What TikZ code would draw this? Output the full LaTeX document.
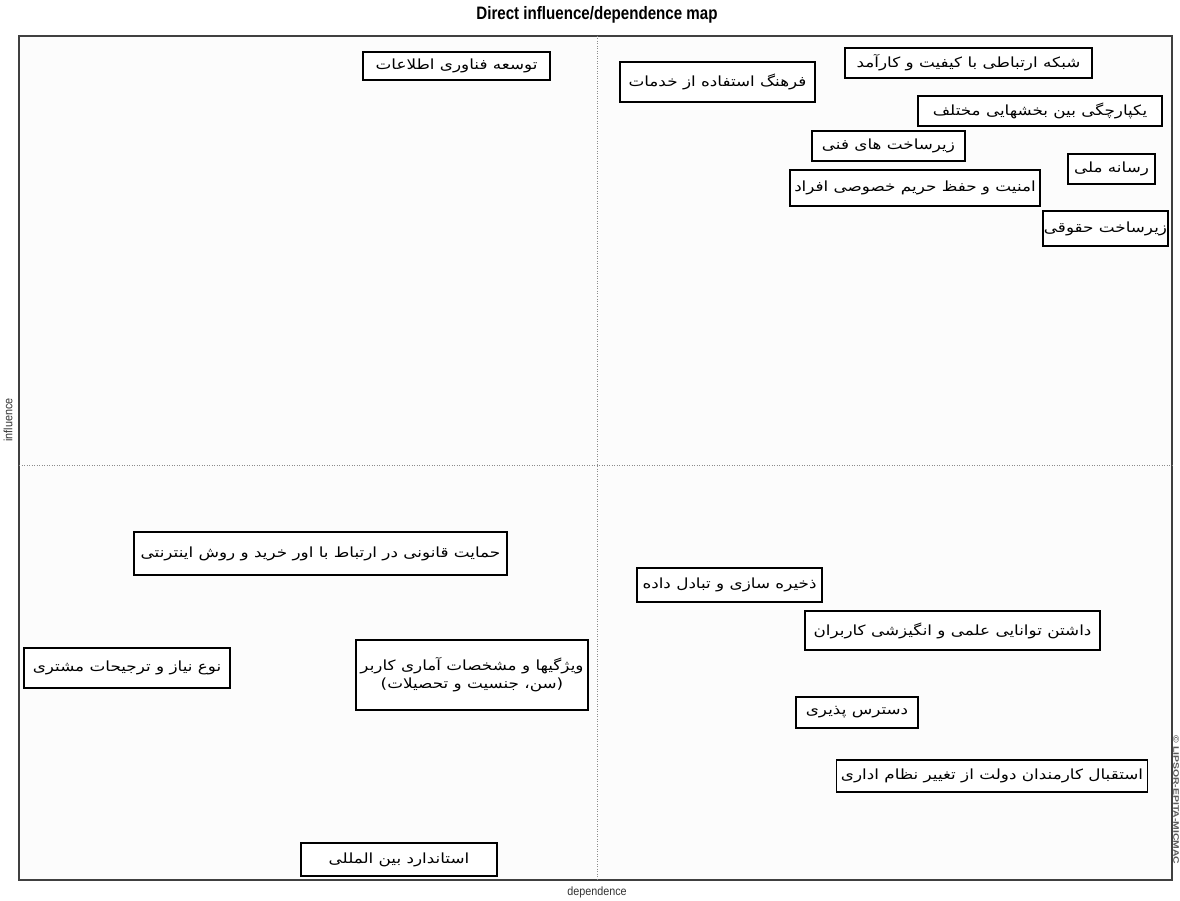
\documentclass[tikz,border=0pt]{standalone}
\usepackage{fontspec}
\setmainfont{Liberation Sans}
\newfontfamily\arabicfont[Script=Arabic,FakeStretch=1.2]{DejaVu Sans}
\TeXXeTstate=1
\begin{document}
\begin{tikzpicture}[x=1pt,y=-1pt,
  varbox/.style={draw=black,line width=1.3pt,fill=white,inner sep=1pt,font=\arabicfont\fontsize{14}{18}\selectfont,align=center},
  frameline/.style={draw=black!75,line width=1.4pt},
  midline/.style={draw=black!45,line width=0.5pt,dotted},
  axislabel/.style={font=\fontsize{12}{13}\selectfont,text=black!80}]
\useasboundingbox[fill=white] (0,0) rectangle (1180,901);
\fill[black!1] (19,36) rectangle (1172,880);
% frame
\draw[frameline] (19,36) rectangle (1172,880);
\coordinate (vtop) at (597,36);
\coordinate (vbot) at (597,880);
\coordinate (hleft) at (19,465);
\coordinate (hright) at (1172,465);
\draw[midline] (vtop) -- (vbot);
\draw[midline] (hleft) -- (hright);
% labels
\node[font=\bfseries\fontsize{18}{19}\selectfont,xscale=0.84,transform shape] (title) at (597,15) {Direct influence/dependence map};
\node[axislabel,xscale=0.9,transform shape] (dep) at (597,892) {dependence};
\node[axislabel,rotate=90,xscale=0.9,transform shape] (inf) at (8,420) {influence};
% variables
\node[varbox,minimum width=187,minimum height=28] (b1) at (456.5,66) {\beginR توسعه فناوری اطلاعات\endR};
\node[varbox,minimum width=195,minimum height=40] (b2) at (717.5,82) {\beginR فرهنگ استفاده از خدمات\endR};
\node[varbox,minimum width=247,minimum height=30] (b3) at (968.5,63) {\beginR شبکه ارتباطی با کیفیت و کارآمد\endR};
\node[varbox,minimum width=244,minimum height=30] (b4) at (1040,111) {\beginR یکپارچگی بین بخشهایی مختلف\endR};
\node[varbox,minimum width=153,minimum height=30] (b5) at (888.5,146) {\beginR زیرساخت های فنی\endR};
\node[varbox,minimum width=87,minimum height=30] (b6) at (1111.5,169) {\beginR رسانه ملی\endR};
\node[varbox,minimum width=250,minimum height=36] (b7) at (915,188) {\beginR امنیت و حفظ حریم خصوصی افراد\endR};
\node[varbox,minimum width=125,minimum height=35] (b8) at (1105.5,228.5) {\beginR زیرساخت حقوقی\endR};
\node[varbox,minimum width=373,minimum height=43] (b9) at (320.5,553.5) {\beginR حمایت قانونی در ارتباط با اور خرید و روش اینترنتی\endR};
\node[varbox,minimum width=185,minimum height=34] (b10) at (729.5,585) {\beginR ذخیره سازی و تبادل داده\endR};
\node[varbox,minimum width=295,minimum height=39] (b11) at (952.5,630.5) {\beginR داشتن توانایی علمی و انگیزشی کاربران\endR};
\node[varbox,minimum width=206,minimum height=40] (b12) at (127,668) {\beginR نوع نیاز و ترجیحات مشتری\endR};
\node[varbox,minimum width=232,minimum height=70] (b13) at (472,675) {\beginR ویژگیها و مشخصات آماری کاربر\endR\\\beginR (سن، جنسیت و تحصیلات)\endR};
\node[varbox,minimum width=122,minimum height=31] (b14) at (857,712.5) {\beginR دسترس پذیری\endR};
\node[varbox,minimum width=311,minimum height=32] (b15) at (992,776) {\beginR استقبال کارمندان دولت از تغییر نظام اداری\endR};
\node[varbox,minimum width=196,minimum height=33] (b16) at (399,859.5) {\beginR استاندارد بین المللی\endR};
% watermark
\node[font=\bfseries\fontsize{8}{9}\selectfont,text=black!65,rotate=-90,xscale=1.3,transform shape] (wm) at (1176,800) {© LIPSOR-EPITA-MICMAC};
\end{tikzpicture}
\end{document}
